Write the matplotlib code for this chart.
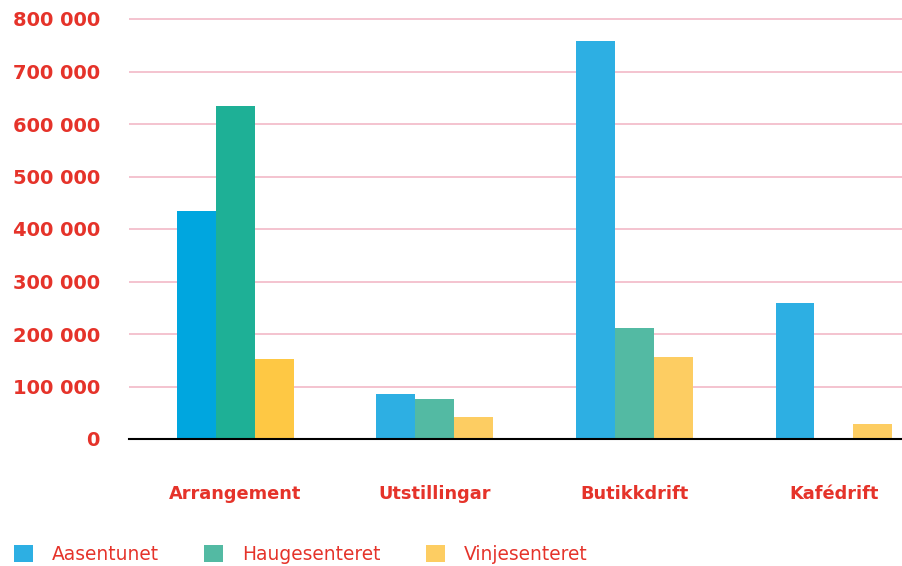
import matplotlib
matplotlib.use("Agg")
import matplotlib.pyplot as plt
from matplotlib.patches import Patch
import numpy as np

categories = ["Arrangement", "Utstillingar", "Butikkdrift", "Kafédrift"]
series_names = ["Aasentunet", "Haugesenteret", "Vinjesenteret"]
aasentunet = [434000, 86000, 758000, 259000]
haugesenteret = [634000, 76000, 211000, 0]
vinjesenteret = [152000, 42000, 156000, 29000]
yticks = [0, 100000, 200000, 300000, 400000, 500000, 600000, 700000, 800000]
ytick_labels = ["0", "100 000", "200 000", "300 000", "400 000",
                "500 000", "600 000", "700 000", "800 000"]

RED = "#E5332A"
GRID = "#F4C3CF"
colors_main = ["#2DAFE3", "#53BAA3", "#FDCD62"]
colors_first = ["#00A6DF", "#1EB096", "#FEC844"]

W, H = 903, 566
fig = plt.figure(figsize=(W / 100, H / 100), dpi=100)
left = 129 / W
bottom = 1 - 439 / H
top = 1 - 13.75 / H
ax = fig.add_axes([left, bottom, 1 - left, top - bottom])

x = np.arange(len(categories))
width = 0.195
series = [aasentunet, haugesenteret, vinjesenteret]
for i, vals in enumerate(series):
    cols = [colors_first[i] if j == 0 else colors_main[i] for j in range(len(vals))]
    ax.bar(x + (i - 1) * width, vals, width=width, color=cols, zorder=3, linewidth=0)

ax.set_xlim(-0.532, 3.346)
ax.set_ylim(0, 810000)
ax.set_yticks(yticks)
ax.set_yticklabels(ytick_labels)
ax.set_xticks(x)
ax.set_xticklabels(categories)
for lab in ax.get_yticklabels():
    lab.set_fontsize(14.0)
    lab.set_fontweight("bold")
    lab.set_color(RED)
    lab.set_fontfamily("DejaVu Sans")
for lab in ax.get_xticklabels():
    lab.set_fontsize(12.8)
    lab.set_fontweight("bold")
    lab.set_color(RED)
    lab.set_fontfamily("DejaVu Sans")
ax.tick_params(axis="y", length=0, pad=21)
ax.tick_params(axis="x", length=0, pad=33)

for v in yticks[1:]:
    ax.axhline(v, color=GRID, linewidth=1.4, zorder=1)

for s in ["top", "right", "left"]:
    ax.spines[s].set_visible(False)
ax.spines["bottom"].set_color("black")
ax.spines["bottom"].set_linewidth(1.5)
ax.spines["bottom"].set_zorder(5)

handles = [Patch(facecolor=c, edgecolor="none") for c in colors_main]
fs = 13.4
leg = fig.legend(handles, series_names, loc="center left",
                 bbox_to_anchor=(14 / W, 11.5 / H), ncol=3, frameon=False,
                 fontsize=fs, handlelength=1.03, handleheight=1.03,
                 handletextpad=1.03, columnspacing=2.4, borderpad=0,
                 borderaxespad=0, labelcolor=RED)

fig.savefig("out.png", dpi=100)
